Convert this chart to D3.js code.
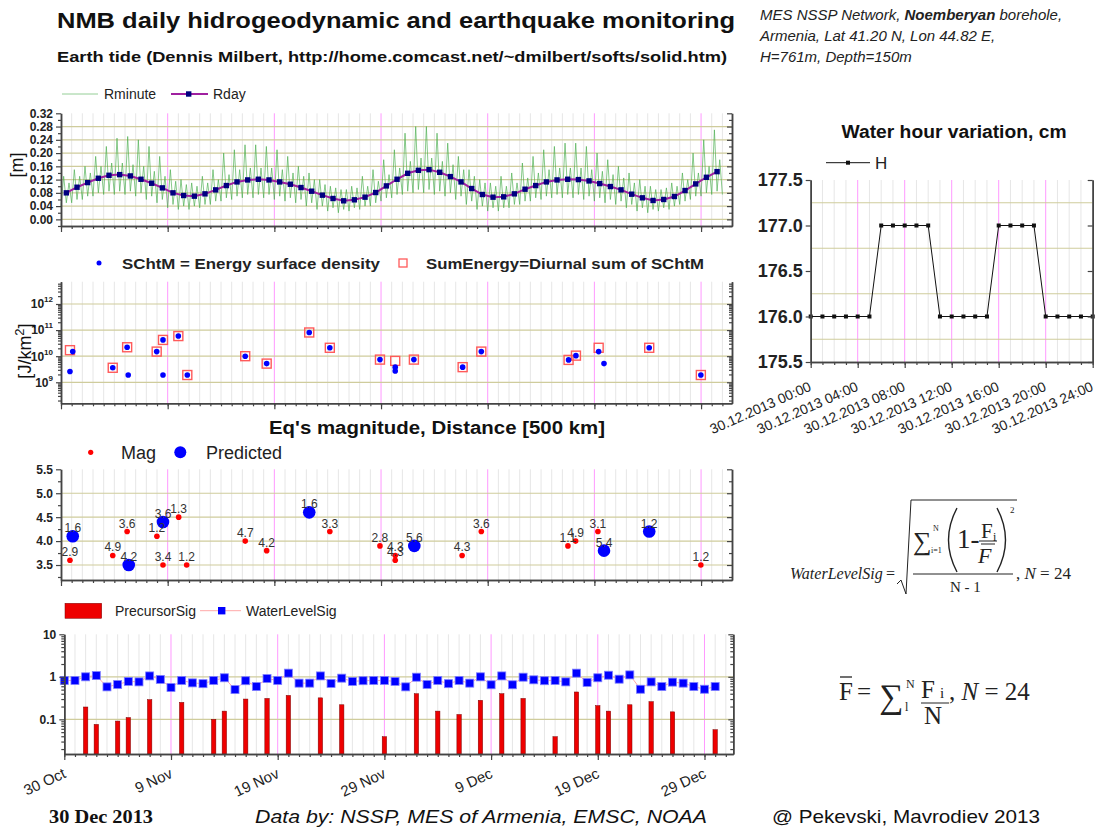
<!DOCTYPE html>
<html>
<head>
<meta charset="utf-8">
<script src="https://cdn.jsdelivr.net/npm/d3@7"></script>
<style>
  body { margin: 0; background: #fff; }
</style>
</head>
<body>
<script>
'use strict';

// ---------- data (day offsets counted from 30 Oct 2013) ----------

// Earth tide, daily mean [m], one per day 30 Oct .. 30 Dec
const rDay = [0.080, 0.097, 0.111, 0.124, 0.133, 0.135, 0.131, 0.121, 0.109, 0.095,
  0.080, 0.072, 0.070, 0.077, 0.089, 0.102, 0.113, 0.119, 0.121, 0.119,
  0.113, 0.106, 0.096, 0.085, 0.073, 0.063, 0.056, 0.059, 0.067, 0.081,
  0.101, 0.121, 0.139, 0.148, 0.150, 0.142, 0.129, 0.113, 0.093, 0.075,
  0.067, 0.068, 0.077, 0.091, 0.102, 0.113, 0.119, 0.121, 0.120, 0.116,
  0.108, 0.099, 0.089, 0.076, 0.065, 0.057, 0.060, 0.069, 0.087, 0.107,
  0.127, 0.144];

// Earth tide, minute series read as daily highest peak / second peak / trough [m]
const rMinHi = [0.13, 0.15, 0.16, 0.19, 0.22, 0.245, 0.25, 0.24, 0.22, 0.19,
  0.15, 0.12, 0.11, 0.13, 0.15, 0.20, 0.21, 0.225, 0.225, 0.22,
  0.21, 0.19, 0.16, 0.14, 0.12, 0.10, 0.09, 0.10, 0.13, 0.15,
  0.18, 0.21, 0.26, 0.28, 0.28, 0.26, 0.23, 0.19, 0.15, 0.12,
  0.11, 0.13, 0.14, 0.17, 0.19, 0.21, 0.22, 0.23, 0.23, 0.22,
  0.20, 0.18, 0.16, 0.14, 0.12, 0.10, 0.09, 0.11, 0.14, 0.20,
  0.24, 0.27];
const rMinHi2 = [0.11, 0.13, 0.14, 0.16, 0.17, 0.17, 0.165, 0.16, 0.145, 0.13,
  0.115, 0.105, 0.10, 0.11, 0.12, 0.135, 0.15, 0.155, 0.155, 0.155,
  0.15, 0.14, 0.13, 0.12, 0.105, 0.095, 0.09, 0.095, 0.10, 0.115,
  0.135, 0.155, 0.175, 0.185, 0.185, 0.175, 0.165, 0.15, 0.13, 0.11,
  0.10, 0.10, 0.11, 0.125, 0.14, 0.15, 0.155, 0.155, 0.155, 0.15,
  0.145, 0.135, 0.125, 0.11, 0.10, 0.09, 0.095, 0.10, 0.12, 0.14,
  0.16, 0.18];
const rMinLo = [0.04, 0.05, 0.06, 0.07, 0.075, 0.075, 0.075, 0.07, 0.06, 0.05,
  0.035, 0.03, 0.03, 0.035, 0.045, 0.055, 0.06, 0.065, 0.065, 0.065,
  0.06, 0.055, 0.05, 0.04, 0.03, 0.025, 0.02, 0.025, 0.03, 0.04,
  0.055, 0.065, 0.075, 0.08, 0.08, 0.075, 0.07, 0.06, 0.045, 0.03,
  0.025, 0.025, 0.035, 0.045, 0.055, 0.06, 0.065, 0.065, 0.065, 0.06,
  0.055, 0.05, 0.045, 0.035, 0.025, 0.02, 0.025, 0.03, 0.045, 0.06,
  0.07, 0.075];

// SChtM energy surface density [J/km2]
const schtmDay = [0.84, 1.1, 4.85, 6.2, 6.3, 8.97, 9.56, 9.56, 11.0, 11.84,
  17.27, 19.28, 23.27, 25.2, 29.9, 31.33, 31.33, 33.08, 37.65, 39.4,
  47.58, 48.27, 50.4, 50.9, 55.14, 59.98];
const schtmVal = [2.6e9, 1.5e10, 3.6e9, 2.2e10, 1.9e9, 1.5e10, 4.2e10, 1.9e9, 5.9e10, 1.9e9,
  1.0e10, 5.2e9, 8.1e10, 2.1e10, 7.4e9, 3.8e9, 2.7e9, 7.4e9, 3.8e9, 1.5e10,
  7.2e9, 1.05e10, 1.5e10, 5.2e9, 2.1e10, 1.9e9];

// diurnal sum of SChtM
const sumDay = [0.84, 4.85, 6.2, 8.97, 9.56, 11.0, 11.84, 17.27, 19.28, 23.27, 25.2,
  29.9, 31.33, 33.08, 37.65, 39.4, 47.58, 48.27, 50.4, 55.14, 59.98];
const sumVal = [1.7e10, 3.6e9, 2.2e10, 1.5e10, 4.2e10, 5.9e10, 1.9e9, 1.0e10, 5.2e9, 8.1e10, 2.1e10,
  7.4e9, 6.6e9, 7.4e9, 3.8e9, 1.5e10, 7.2e9, 1.05e10, 2.1e10, 2.1e10, 1.9e9];

// earthquakes: magnitude and distance label [500 km]
const magDay = [0.84, 4.85, 6.2, 8.99, 9.56, 11.03, 11.78, 17.27, 19.28, 25.2,
  29.9, 31.33, 31.33, 37.6, 39.4, 47.52, 48.24, 50.33, 59.98];
const magVal = [3.6, 3.7, 4.2, 4.1, 3.5, 4.5, 3.5, 4.0, 3.8, 4.2,
  3.9, 3.7, 3.6, 3.7, 4.2, 3.9, 4.0, 4.2, 3.5];
const magDist = ['2.9', '4.9', '3.6', '1.2', '3.4', '1.3', '1.2', '4.7', '4.2', '3.3',
  '2.8', '4.3', '4.3', '4.3', '3.6', '1.1', '4.9', '3.1', '1.2'];

const predDay = [1.1, 6.35, 9.56, 23.27, 33.12, 50.9, 55.14];
const predVal = [4.1, 3.5, 4.4, 4.6, 3.9, 3.8, 4.2];
const predDist = ['1.6', '4.2', '3.6', '1.6', '5.6', '5.4', '1.2'];

// WaterLevelSig, one per day (day 0 .. 61)
const waterLevelSig = [0.82, 0.82, 1.0, 1.07, 0.58, 0.66, 0.78, 0.76, 1.05, 0.87,
  0.56, 0.82, 0.72, 0.69, 0.82, 0.95, 0.50, 0.81, 0.59, 0.91,
  0.82, 1.22, 0.71, 0.71, 1.05, 0.70, 0.93, 0.78, 0.81,
  0.82, 0.82, 0.78, 0.58, 0.98, 0.66, 0.82, 0.69, 0.82, 0.71,
  1.0, 0.65, 1.05, 0.65, 0.98, 0.85, 0.81, 0.82, 0.76, 1.22,
  0.74, 0.95, 1.09, 0.88, 1.11, 0.51, 0.76, 0.59, 0.75, 0.71,
  0.59, 0.51, 0.59];

// PrecursorSig bars
const precDay = [2, 3, 5, 6, 8, 11, 14, 15, 17, 19, 21, 24, 26,
  30, 33, 35, 37, 39, 41, 43, 46, 48, 50, 51, 53, 55, 57, 61];
const precVal = [0.195, 0.076, 0.091, 0.11, 0.29, 0.25, 0.10, 0.156, 0.30, 0.31, 0.365, 0.32, 0.22,
  0.039, 0.40, 0.156, 0.13, 0.28, 0.40, 0.31, 0.039, 0.44, 0.21, 0.156, 0.22, 0.26, 0.15, 0.057];

// water hour variation on 30.12.2013 [cm]
const waterHour = [0, 1, 2, 3, 4, 5, 6, 7, 8, 9, 10, 11, 12, 13, 14, 15, 16, 17, 18, 19, 20, 21, 22, 23, 24];
const waterH = [176, 176, 176, 176, 176, 176, 177, 177, 177, 177, 177, 176, 176, 176, 176, 176,
  177, 177, 177, 177, 176, 176, 176, 176, 176];

const dayTickVals = [0, 10, 20, 30, 40, 50, 60];
const dayTickLabels = ['30 Oct', '9 Nov', '19 Nov', '29 Nov', '9 Dec', '19 Dec', '29 Dec'];
const hourTickVals = [0, 4, 8, 12, 16, 20, 24];
const hourTickLabels = ['30.12.2013 00:00', '30.12.2013 04:00', '30.12.2013 08:00', '30.12.2013 12:00',
  '30.12.2013 16:00', '30.12.2013 20:00', '30.12.2013 24:00'];

// ---------- setup ----------
const SANS = 'Arial, "Liberation Sans", sans-serif';
const SERIF = '"Times New Roman", "Liberation Serif", serif';
const GRID_PINK = '#ff99ff';
const GRID_GREY = '#e6e6e6';
const GRID_KHAKI = '#cfcc9c';
const AXIS = '#444';

const svg = d3.select('body').append('svg')
    .attr('width', 1107)
    .attr('height', 829)
    .attr('font-family', SANS);

const xTop = d3.scaleLinear().domain([0, 62.9]).range([61, 732]);
const xBot = d3.scaleLinear().domain([0, 62.7]).range([64.3, 733.3]);
const yTide = d3.scaleLinear().domain([-0.02, 0.32]).range([226, 113.3]);
const yEnergy = d3.scaleLog().domain([Math.pow(10, 8.195), Math.pow(10, 12.854)]).range([403.3, 281.7]);
const yMag = d3.scaleLinear().domain([3.187, 5.5]).range([580, 469.3]);
const ySig = d3.scaleLog().domain([0.0153, 10]).range([754, 634.3]);
const xHour = d3.scaleLinear().domain([0, 24]).range([810.7, 1092.7]);
const yWater = d3.scaleLinear().domain([175.5, 177.5]).range([362, 180]);

function text(x, y, str, size, opts) {
  const o = opts || {};
  const t = svg.append('text')
      .attr('x', x).attr('y', y)
      .attr('font-size', size)
      .attr('fill', o.fill || '#111')
      .attr('font-weight', o.bold ? 'bold' : null)
      .attr('font-style', o.italic ? 'italic' : null)
      .attr('font-family', o.family || SANS)
      .attr('text-anchor', o.anchor || 'start')
      .text(str);
  if (o.len) t.attr('textLength', o.len).attr('lengthAdjust', 'spacingAndGlyphs');
  return t;
}

function styleAxis(g, size) {
  g.attr('font-family', SANS);
  g.select('.domain').attr('stroke', AXIS).attr('stroke-width', 1.5);
  g.selectAll('.tick line').attr('stroke', AXIS).attr('stroke-width', 1.2);
  g.selectAll('.tick text').attr('font-size', size || 12).attr('font-weight', 'bold').attr('fill', '#222');
  return g;
}

function vGrid(x, y0, y1, maxDay, step) {
  const g = svg.append('g');
  const all = d3.range(1, maxDay + 1);
  g.selectAll('line.mi').data(all.filter(d => d % step !== 0)).join('line')
      .attr('x1', d => x(d)).attr('x2', d => x(d))
      .attr('y1', y0).attr('y2', y1)
      .attr('stroke', GRID_GREY);
  g.selectAll('line.ma').data(all.filter(d => d % step === 0)).join('line')
      .attr('x1', d => x(d)).attr('x2', d => x(d))
      .attr('y1', y0).attr('y2', y1)
      .attr('stroke', GRID_PINK);
}

function hGrid(y, vals, x0, x1) {
  svg.append('g').selectAll('line').data(vals).join('line')
      .attr('x1', x0).attr('x2', x1)
      .attr('y1', d => y(d)).attr('y2', d => y(d))
      .attr('stroke', GRID_KHAKI).attr('stroke-width', 1.2);
}

function dayAxis(x, yPos, withLabels) {
  styleAxis(svg.append('g')
      .attr('transform', 'translate(0,' + yPos + ')')
      .call(d3.axisBottom(x).tickValues(d3.range(0, 63)).tickSize(3).tickSizeOuter(0).tickFormat('')));
  const g = svg.append('g')
      .attr('transform', 'translate(0,' + yPos + ')')
      .call(d3.axisBottom(x).tickValues(dayTickVals).tickSize(6).tickSizeOuter(0)
        .tickFormat((d, i) => withLabels ? dayTickLabels[i] : ''));
  styleAxis(g, 15);
  g.selectAll('.tick text')
      .attr('font-weight', null)
      .attr('text-anchor', 'end')
      .attr('y', 0).attr('dy', 0)
      .attr('transform', 'translate(2,23) rotate(-25)');
}

function leftAxis(y, xPos, major, minor, fmt, size) {
  styleAxis(svg.append('g').attr('transform', 'translate(' + xPos + ',0)')
      .call(d3.axisLeft(y).tickValues(minor).tickSize(3).tickSizeOuter(0).tickFormat('')));
  return styleAxis(svg.append('g').attr('transform', 'translate(' + xPos + ',0)')
      .call(d3.axisLeft(y).tickValues(major).tickSize(5).tickSizeOuter(0).tickPadding(3).tickFormat(fmt)), size);
}

function rightAxis(y, xPos, major, minor) {
  styleAxis(svg.append('g').attr('transform', 'translate(' + xPos + ',0)')
      .call(d3.axisLeft(y).tickValues(minor).tickSize(3).tickSizeOuter(0).tickFormat('')));
  styleAxis(svg.append('g').attr('transform', 'translate(' + xPos + ',0)')
      .call(d3.axisLeft(y).tickValues(major).tickSize(5).tickSizeOuter(0).tickFormat('')));
}

function logMinor(lo, hi) {
  const out = [];
  for (let e = lo; e <= hi; e++) {
    for (let m = 2; m <= 9; m++) out.push(m * Math.pow(10, e));
  }
  return out;
}

// ---------- header ----------
text(57, 28, 'NMB daily hidrogeodynamic and earthquake monitoring', 22, {bold: true, len: 678});
text(57, 62, 'Earth tide (Dennis Milbert, http://home.comcast.net/~dmilbert/softs/solid.htm)', 15, {bold: true, len: 670});
const hdr = text(760, 20, '', 15, {italic: true, fill: '#222'});
hdr.append('tspan').text('MES NSSP Network, ');
hdr.append('tspan').attr('font-weight', 'bold').text('Noemberyan');
hdr.append('tspan').text(' borehole,');
text(760, 41, 'Armenia, Lat 41.20 N, Lon 44.82 E,', 15, {italic: true, fill: '#222'});
text(760, 62, 'H=761m, Depth=150m', 15, {italic: true, fill: '#222'});

// ---------- panel 1: earth tide ----------
vGrid(xTop, 113.3, 226, 62, 10);
hGrid(yTide, [0, 0.04, 0.08, 0.12, 0.16, 0.20, 0.24, 0.28], 61, 732);

const rMinutePts = [];
rMinLo.forEach((lo, i) => {
  rMinutePts.push([i, lo], [i + 0.25, rMinHi[i]], [i + 0.5, lo + 0.01], [i + 0.75, rMinHi2[i]]);
});
rMinutePts.push([62, rMinLo[61]]);

svg.append('path')
    .datum(rMinutePts)
    .attr('fill', 'none')
    .attr('stroke', '#4caf50')
    .attr('stroke-opacity', 0.75)
    .attr('stroke-width', 0.9)
    .attr('d', d3.line().x(d => xTop(d[0])).y(d => yTide(d[1])));

svg.append('path')
    .datum(rDay)
    .attr('fill', 'none')
    .attr('stroke', '#a020a0')
    .attr('stroke-width', 2)
    .attr('d', d3.line().x((d, i) => xTop(i + 0.5)).y(d => yTide(d)));

svg.append('g').selectAll('rect').data(rDay).join('rect')
    .attr('x', (d, i) => xTop(i + 0.5) - 2.7)
    .attr('y', d => yTide(d) - 2.7)
    .attr('width', 5.4).attr('height', 5.4)
    .attr('fill', '#000080');

dayAxis(xTop, 226, false);
leftAxis(yTide, 61, [0, 0.04, 0.08, 0.12, 0.16, 0.20, 0.24, 0.28, 0.32],
  [-0.02, 0.02, 0.06, 0.10, 0.14, 0.18, 0.22, 0.26, 0.30], d3.format('.2f'), 12);
rightAxis(yTide, 732, [0, 0.04, 0.08, 0.12, 0.16, 0.20, 0.24, 0.28, 0.32],
  [-0.02, 0.02, 0.06, 0.10, 0.14, 0.18, 0.22, 0.26, 0.30]);

text(17, 165, '[m]', 18, {anchor: 'middle'}).attr('transform', 'rotate(-90,17,165)').attr('dy', 6);

// legend
svg.append('line').attr('x1', 62).attr('x2', 98).attr('y1', 94).attr('y2', 94)
    .attr('stroke', '#4caf50').attr('stroke-opacity', 0.6);
text(104, 99, 'Rminute', 14, {fill: '#222'});
svg.append('line').attr('x1', 171).attr('x2', 208).attr('y1', 94).attr('y2', 94)
    .attr('stroke', '#a020a0').attr('stroke-width', 2);
svg.append('rect').attr('x', 186).attr('y', 91.3).attr('width', 5.4).attr('height', 5.4).attr('fill', '#000080');
text(213, 99, 'Rday', 14, {fill: '#222'});

// ---------- panel 2: energy ----------
vGrid(xTop, 281.7, 403.3, 62, 10);
hGrid(yEnergy, [1e9, 1e10, 1e11, 1e12], 61, 732);

svg.append('g').selectAll('rect').data(sumVal).join('rect')
    .attr('x', (d, i) => xTop(sumDay[i]) - 4.5)
    .attr('y', d => yEnergy(d) - 4.5)
    .attr('width', 9).attr('height', 9)
    .attr('fill', 'none')
    .attr('stroke', '#ff5a5a')
    .attr('stroke-width', 1.4);

svg.append('g').selectAll('circle').data(schtmVal).join('circle')
    .attr('cx', (d, i) => xTop(schtmDay[i]))
    .attr('cy', d => yEnergy(d))
    .attr('r', 2.8)
    .attr('fill', '#0000ff');

dayAxis(xTop, 403.3, false);
const ge = leftAxis(yEnergy, 61, [1e9, 1e10, 1e11, 1e12], logMinor(8, 12).filter(v => v > 1.6e8 && v < 7e12),
  d => '', 12);
ge.selectAll('.tick text').call(t => {
  t.append('tspan').text('10');
  t.append('tspan').attr('dy', -6).attr('font-size', 8).text(d => Math.round(Math.log10(d)));
});
rightAxis(yEnergy, 732, [1e9, 1e10, 1e11, 1e12], logMinor(8, 12).filter(v => v > 1.6e8 && v < 7e12));

const ylab2 = text(25, 351, '[J/km', 18, {anchor: 'middle'}).attr('transform', 'rotate(-90,25,351)').attr('dy', 6);
ylab2.append('tspan').attr('dy', -7).attr('font-size', 13).text('2');
ylab2.append('tspan').attr('dy', 7).text(']');

svg.append('circle').attr('cx', 99).attr('cy', 263).attr('r', 2.5).attr('fill', '#0000ff');
text(122, 269, 'SChtM = Energy surface density', 15, {bold: true, fill: '#222', len: 258});
svg.append('rect').attr('x', 399).attr('y', 259).attr('width', 8).attr('height', 8)
    .attr('fill', 'none').attr('stroke', '#ff5a5a').attr('stroke-width', 1.3);
text(426, 269, 'SumEnergy=Diurnal sum of SChtM', 15, {bold: true, fill: '#222', len: 278});

// ---------- panel 3: magnitude ----------
text(437, 434, "Eq's magnitude, Distance [500 km]", 18, {bold: true, anchor: 'middle', len: 336});
vGrid(xTop, 469.3, 580, 62, 10);
hGrid(yMag, [3.5, 4.0, 4.5, 5.0], 61, 732);

svg.append('g').selectAll('circle').data(predVal).join('circle')
    .attr('cx', (d, i) => xTop(predDay[i]))
    .attr('cy', d => yMag(d))
    .attr('r', 6.3)
    .attr('fill', '#0000ff');
svg.append('g').selectAll('circle').data(magVal).join('circle')
    .attr('cx', (d, i) => xTop(magDay[i]))
    .attr('cy', d => yMag(d))
    .attr('r', 2.8)
    .attr('fill', '#ff0000');

svg.append('g').selectAll('text').data(predVal).join('text')
    .attr('x', (d, i) => xTop(predDay[i]))
    .attr('y', d => yMag(d) - 4)
    .attr('text-anchor', 'middle')
    .attr('font-size', 12)
    .attr('fill', '#333')
    .text((d, i) => predDist[i]);
svg.append('g').selectAll('text').data(magVal).join('text')
    .attr('x', (d, i) => xTop(magDay[i]))
    .attr('y', d => yMag(d) - 4)
    .attr('text-anchor', 'middle')
    .attr('font-size', 12)
    .attr('fill', '#333')
    .text((d, i) => magDist[i]);

dayAxis(xTop, 580, false);
leftAxis(yMag, 61, [3.5, 4.0, 4.5, 5.0, 5.5], [3.25, 3.75, 4.25, 4.75, 5.25], d3.format('.1f'), 12);
rightAxis(yMag, 732, [3.5, 4.0, 4.5, 5.0, 5.5], [3.25, 3.75, 4.25, 4.75, 5.25]);

svg.append('circle').attr('cx', 90.7).attr('cy', 452.3).attr('r', 2.6).attr('fill', '#ff0000');
text(121, 458.5, 'Mag', 18, {fill: '#222'});
svg.append('circle').attr('cx', 180.3).attr('cy', 452.3).attr('r', 6).attr('fill', '#0000ff');
text(206, 458.5, 'Predicted', 18, {fill: '#222'});

// ---------- panel 4: signals ----------
vGrid(xBot, 634.3, 754, 62, 10);
hGrid(ySig, [0.1, 1], 64.3, 733.3);

svg.append('g').selectAll('rect').data(precVal).join('rect')
    .attr('x', (d, i) => xBot(precDay[i]) - 2.2)
    .attr('y', d => ySig(d))
    .attr('width', 4.4)
    .attr('height', d => 754 - ySig(d))
    .attr('fill', '#ee0000')
    .attr('stroke', '#7a0000')
    .attr('stroke-width', 0.5);

svg.append('path')
    .datum(waterLevelSig)
    .attr('fill', 'none')
    .attr('stroke', '#ffa8a8')
    .attr('stroke-width', 1)
    .attr('d', d3.line().x((d, i) => xBot(i)).y(d => ySig(d)));

svg.append('g').selectAll('rect').data(waterLevelSig).join('rect')
    .attr('x', (d, i) => xBot(i) - 4)
    .attr('y', d => ySig(d) - 4)
    .attr('width', 8).attr('height', 8)
    .attr('fill', '#0000ff')
    .attr('stroke', '#7f7fff')
    .attr('stroke-width', 0.8);

dayAxis(xBot, 754, true);
leftAxis(ySig, 64.3, [0.1, 1, 10], logMinor(-2, 0).filter(v => v > 0.0153),
  d => (d < 1 ? '0.1' : String(d)), 12);
rightAxis(ySig, 733.3, [0.1, 1, 10], logMinor(-2, 0).filter(v => v > 0.0153));

svg.append('rect').attr('x', 65).attr('y', 603.3).attr('width', 36.7).attr('height', 15)
    .attr('fill', '#ee0000').attr('stroke', '#7a0000').attr('stroke-width', 0.5);
text(115, 616, 'PrecursorSig', 14, {fill: '#222'});
svg.append('line').attr('x1', 200).attr('x2', 241).attr('y1', 610.7).attr('y2', 610.7)
    .attr('stroke', '#ffa8a8');
svg.append('rect').attr('x', 218).attr('y', 607).attr('width', 7.4).attr('height', 7.4)
    .attr('fill', '#0000ff');
text(246, 616, 'WaterLevelSig', 14, {fill: '#222'});

// ---------- right panel: water hour variation ----------
text(954, 138, 'Water hour variation, cm', 18, {bold: true, anchor: 'middle', len: 225});
vGrid(xHour, 180, 362, 23, 4);
hGrid(yWater, [175.75, 176.25, 176.75, 177.25], 810.7, 1092.7);

svg.append('path')
    .datum(waterH)
    .attr('fill', 'none')
    .attr('stroke', '#111')
    .attr('stroke-width', 1)
    .attr('d', d3.line().x((d, i) => xHour(waterHour[i])).y(d => yWater(d)));
svg.append('g').selectAll('rect').data(waterH).join('rect')
    .attr('x', (d, i) => xHour(waterHour[i]) - 2)
    .attr('y', d => yWater(d) - 2)
    .attr('width', 4).attr('height', 4)
    .attr('fill', '#111');

styleAxis(svg.append('g').attr('transform', 'translate(0,362)')
    .call(d3.axisBottom(xHour).tickValues(waterHour).tickSize(3).tickSizeOuter(0).tickFormat('')));
const gh = styleAxis(svg.append('g').attr('transform', 'translate(0,362)')
    .call(d3.axisBottom(xHour).tickValues(hourTickVals).tickSize(6).tickSizeOuter(0)
      .tickFormat((d, i) => hourTickLabels[i])), 14);
gh.selectAll('.tick text')
    .attr('font-weight', null)
    .attr('text-anchor', 'end')
    .attr('y', 0).attr('dy', 0)
    .attr('transform', 'translate(1,28) rotate(-24)');

leftAxis(yWater, 810.7, [175.5, 176.0, 176.5, 177.0, 177.5], [], d3.format('.1f'), 18);
rightAxis(yWater, 1092.7, [175.5, 176.0, 176.5, 177.0, 177.5], []);

svg.append('line').attr('x1', 826).attr('x2', 870).attr('y1', 162.7).attr('y2', 162.7).attr('stroke', '#111');
svg.append('rect').attr('x', 846).attr('y', 160.7).attr('width', 4).attr('height', 4).attr('fill', '#111');
text(875, 169, 'H', 17, {fill: '#222'});

// ---------- formulas ----------
const fcol = '#222';
text(790, 579, 'WaterLevelSig', 16, {italic: true, family: SERIF, fill: fcol});
text(886, 579, '=', 16, {family: SERIF, fill: fcol});
svg.append('path').attr('d', 'M897,584 L901,580 L906,594 L911,500 L1017,500')
    .attr('fill', 'none').attr('stroke', fcol).attr('stroke-width', 1);
text(913, 550, '\u2211', 26, {family: SERIF, fill: fcol});
text(933, 531, 'N', 8, {family: SERIF, fill: fcol});
text(931, 553, 'i=1', 8, {family: SERIF, fill: fcol});
svg.append('path').attr('d', 'M957,508 Q940,540 957,572').attr('fill', 'none').attr('stroke', fcol).attr('stroke-width', 1.4);
text(957, 548, '1-', 27, {family: SERIF, fill: fcol});
text(981, 538, 'F', 21, {family: SERIF, fill: fcol});
text(993, 541, 'i', 12, {family: SERIF, fill: fcol});
svg.append('line').attr('x1', 979).attr('x2', 997).attr('y1', 541).attr('y2', 541).attr('stroke', fcol);
svg.append('line').attr('x1', 981).attr('x2', 995).attr('y1', 544).attr('y2', 544).attr('stroke', fcol);
text(978, 563, 'F', 22, {italic: true, family: SERIF, fill: fcol});
svg.append('path').attr('d', 'M997,508 Q1014,540 997,572').attr('fill', 'none').attr('stroke', fcol).attr('stroke-width', 1.4);
text(1010, 513, '2', 9, {family: SERIF, fill: fcol});
svg.append('line').attr('x1', 913).attr('x2', 1013).attr('y1', 574).attr('y2', 574).attr('stroke', fcol);
text(950, 592, 'N - 1', 15, {family: SERIF, fill: fcol});
const f1 = text(1016, 579, ', ', 17, {family: SERIF, fill: fcol});
f1.append('tspan').attr('font-style', 'italic').text('N');
f1.append('tspan').text(' = 24');

text(839, 700, 'F', 25, {family: SERIF, fill: fcol});
svg.append('line').attr('x1', 840).attr('x2', 852).attr('y1', 677).attr('y2', 677).attr('stroke', fcol).attr('stroke-width', 1.3);
text(857, 700, '=', 25, {family: SERIF, fill: fcol});
text(879, 708, '\u2211', 34, {family: SERIF, fill: fcol});
text(906, 688, 'N', 12, {family: SERIF, fill: fcol});
text(905, 711, 'l', 12, {family: SERIF, fill: fcol});
text(921, 698, 'F', 25, {family: SERIF, fill: fcol});
text(940, 698, 'i', 15, {family: SERIF, fill: fcol});
svg.append('line').attr('x1', 921).attr('x2', 949).attr('y1', 703).attr('y2', 703).attr('stroke', fcol);
text(924, 724, 'N', 25, {family: SERIF, fill: fcol});
const f2 = text(949, 700, ', ', 25, {family: SERIF, fill: fcol});
f2.append('tspan').attr('font-style', 'italic').text('N');
f2.append('tspan').text(' = 24');

// ---------- footer ----------
text(49, 823, '30 Dec 2013', 18, {bold: true, family: SERIF, fill: '#111', len: 104});
text(255, 823, 'Data by: NSSP, MES of Armenia, EMSC, NOAA', 19, {italic: true, fill: '#111', len: 452});
text(772, 823, '@ Pekevski, Mavrodiev 2013', 19, {fill: '#111', len: 268});
</script>
</body>
</html>
